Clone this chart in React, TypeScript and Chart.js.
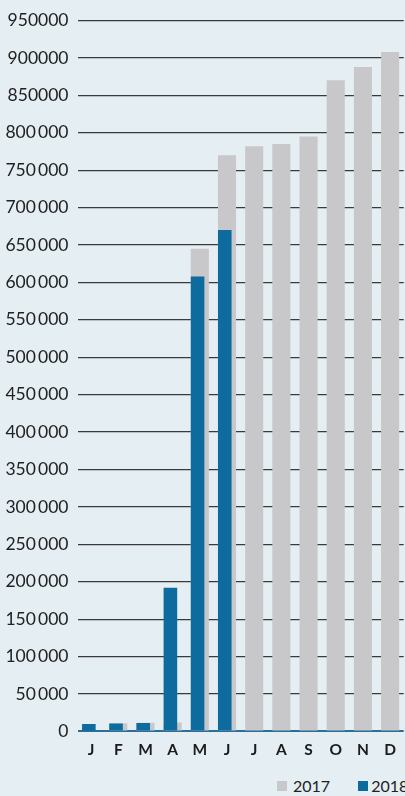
import React, { useEffect, useRef } from "react";
import { Chart, registerables } from "chart.js";

Chart.register(...registerables);

const months = ["J", "F", "M", "A", "M", "J", "J", "A", "S", "O", "N", "D"];
const series2017 = [null, 11000, 11500, 12000, 645000, 770000, 782000, 785000, 795000, 870000, 888000, 908000];
const series2018 = [10000, 10700, 11200, 192000, 608000, 670000, null, null, null, null, null, null];
const yTickLabels = [
  "0", "50\u2009000", "100\u2009000", "150\u2009000", "200\u2009000", "250\u2009000",
  "300\u2009000", "350\u2009000", "400\u2009000", "450\u2009000", "500\u2009000",
  "550\u2009000", "600\u2009000", "650\u2009000", "700\u2009000", "750\u2009000",
  "800\u2009000", "850000", "900000", "950000",
];
const legendLabels = ["2017", "2018"];

const BG = "#e4eef3";
const GREY = "#c8c8ca";
const BLUE = "#0d6b9e";
const FONT = "Lato, 'Open Sans', sans-serif";

const alignLeftPlugin = {
  id: "alignLeft",
  beforeDatasetDraw(chart: any, args: any) {
    if (args.index !== 1) return;
    const a = chart.getDatasetMeta(0).data.find((e: any) => Number.isFinite(e.width));
    const b = chart.getDatasetMeta(1).data.find((e: any) => Number.isFinite(e.width));
    const dx = a && b ? (a.width - b.width) / 2 : 0;
    chart.ctx.save();
    chart.ctx.translate(-dx, 0);
  },
  afterDatasetDraw(chart: any, args: any) {
    if (args.index !== 1) return;
    chart.ctx.restore();
  },
};

export default function App() {
  const ref = useRef<HTMLCanvasElement | null>(null);

  useEffect(() => {
    if (!ref.current) return;
    const chart = new Chart(ref.current, {
      type: "bar",
      data: {
        labels: months,
        datasets: [
          {
            label: legendLabels[0],
            data: series2017,
            backgroundColor: GREY,
            borderWidth: 0,
            grouped: false,
            categoryPercentage: 1,
            barPercentage: 0.665,
            order: 2,
          },
          {
            label: legendLabels[1],
            data: series2018,
            backgroundColor: BLUE,
            borderWidth: 0,
            grouped: false,
            categoryPercentage: 1,
            barPercentage: 0.5,
            order: 1,
          },
        ],
      },
      options: {
        animation: false,
        responsive: true,
        maintainAspectRatio: false,
        layout: { padding: { top: 20.5, left: 0, right: 0, bottom: 0 } },
        plugins: {
          legend: { display: false },
          tooltip: { enabled: false },
        },
        scales: {
          x: {
            grid: { display: false, drawTicks: false },
            border: { display: false },
            ticks: {
              padding: 9,
              color: "#1c1c1c",
              font: { family: FONT, size: 15.5, weight: "bold" },
            },
          },
          y: {
            min: 0,
            max: 950000,
            afterFit: (s: any) => {
              s.width = 77.5;
            },
            border: { display: false },
            grid: {
              drawTicks: false,
              color: (c: any) => (c.tick && c.tick.value === 0 ? "#2a6e99" : "#3a3a3a"),
              lineWidth: (c: any) => (c.tick && c.tick.value === 0 ? 2 : 1.3),
            },
            ticks: {
              stepSize: 50000,
              padding: 9,
              color: "#222222",
              font: { family: FONT, size: 17.5 },
              callback: (_v: any, i: number) => yTickLabels[i],
            },
          },
        },
      },
      plugins: [alignLeftPlugin],
    });
    return () => chart.destroy();
  }, []);

  const sq = (c: string) => ({
    display: "inline-block",
    width: 10,
    height: 10,
    background: c,
  });

  return (
    <div
      style={{
        position: "absolute",
        left: 0,
        top: 0,
        width: 405,
        height: 796,
        overflow: "hidden",
        background: BG,
      }}
    >
      <div style={{ position: "absolute", left: 0, top: 0, width: 405, height: 768 }}>
        <canvas ref={ref} />
      </div>
      <div
        style={{
          position: "absolute",
          left: 277,
          top: 776,
          display: "flex",
          alignItems: "center",
          whiteSpace: "nowrap",
          fontFamily: FONT,
          fontSize: 16,
          lineHeight: "19px",
          color: "#222",
        }}
      >
        <span style={sq(GREY)} />
        <span style={{ marginLeft: 6 }}>{legendLabels[0]}</span>
        <span style={{ ...sq(BLUE), marginLeft: 28 }} />
        <span style={{ marginLeft: 3 }}>{legendLabels[1]}</span>
      </div>
    </div>
  );
}
